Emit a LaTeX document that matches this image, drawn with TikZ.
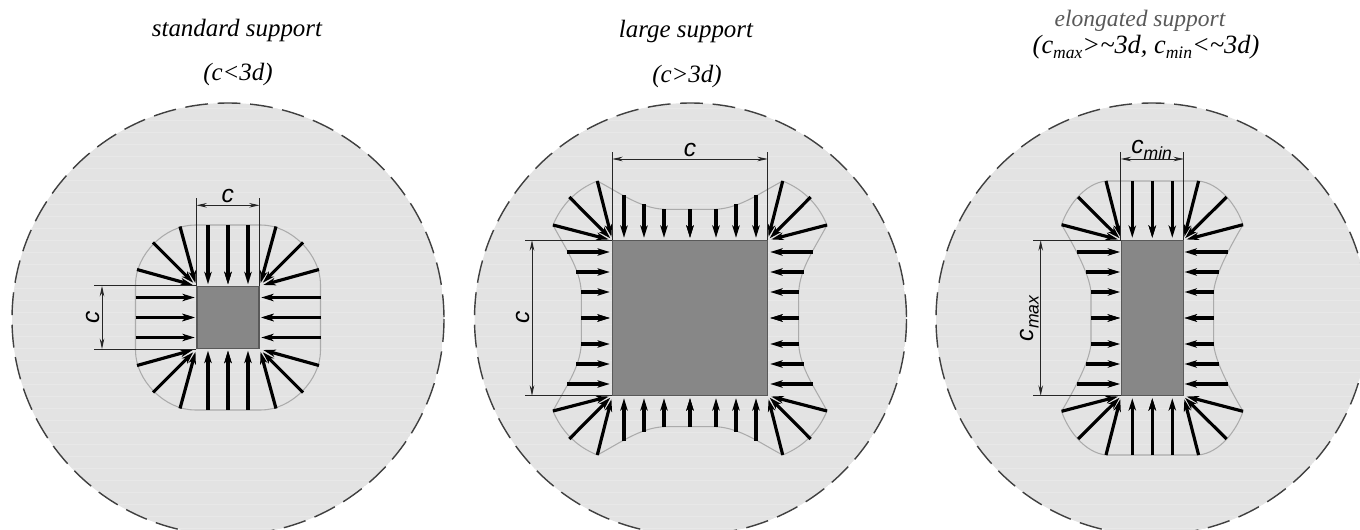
\documentclass[tikz,border=0pt]{standalone}
\usepackage{fontspec}
\setmainfont{Liberation Serif}
\newfontfamily\dimfont{Liberation Sans}
\usetikzlibrary{arrows.meta}

\newcommand{\OneQuadrant}[2]{%
\draw[outline] #1;
\foreach \tx/\ty/\hx/\hy in {#2}
	\draw[force] (\tx,\ty) -- (\hx,\hy);
}
\newcommand{\LowText}[2]{\raisebox{-0.22em}{\fontsize{#1}{#1}\selectfont #2}}

\begin{document}
\begin{tikzpicture}[x = 0.02cm, y = -0.02cm]
\tikzstyle{outline}=[draw = black!33, line width = 0.6pt]
\tikzstyle{force}=[-{Stealth[length = 7pt, width = 4.2pt, inset = 2pt]}, line width = 1.8pt, black, shorten >= -1pt]
\tikzstyle{support}=[shape = rectangle, fill = black!47, draw = black!65, line width = 0.7pt, inner sep = 0pt]
\tikzstyle{dimline}=[{Stealth[length = 6pt, width = 2.6pt]}-{Stealth[length = 6pt, width = 2.6pt]}, line width = 0.5pt, black!85]
\tikzstyle{extline}=[line width = 0.5pt, black!85]
\tikzstyle{title}=[font = \fontsize{14.2}{16}\selectfont\itshape, inner sep = 0pt]
\tikzstyle{dimlabel}=[font = \fontsize{14}{16}\selectfont\dimfont\itshape, inner sep = 0pt]

\useasboundingbox (0,0) rectangle (1360,530);
\clip (0,0) rectangle (1360,530);

% slabs
\foreach \cx in {228,690.5,1152}{
	\begin{scope}
		\clip (\cx,319) circle (216);
		\fill[black!11] (\cx,319) circle (216);
		\foreach \ys in {108,120,...,530}
			\draw[black!9, line width = 0.5pt] (\cx-220,\ys) -- (\cx+220,\ys);
	\end{scope}
	\draw[black!75, line width = 0.8pt, dash pattern = on 13pt off 5.5pt] (\cx,319) circle (216);
}

% left panel
\foreach \sx in {-1,1}
	\foreach \sy in {-1,1}{
		\begin{scope}[shift = {(228,317.5)}, xscale = \sx, yscale = \sy]
			\OneQuadrant{(0,92.5) -- (33,92.5) .. controls (63,92.5) and (92.5,63) .. (92.5,33) -- (92.5,0)}
				{0/92.5/0/35, 20/92.5/20/35, 92.5/0/35/0, 92.5/20/35/20, 48/91/33/36, 75/75/36/36, 91/48/37/33}
		\end{scope}
	}

% middle panel
\foreach \sx in {-1,1}
	\foreach \sy in {-1,1}{
		\begin{scope}[shift = {(690,318)}, xscale = \sx, yscale = \sy]
			\OneQuadrant{(0,108.7) -- (26,108.7) .. controls (50,110) and (70,125) .. (92.7,137) .. controls (115,128) and (129,112) .. (137,93) .. controls (125,70) and (110,50) .. (108.7,26) -- (108.7,0)}
				{0/108.7/0/82, 26/108.7/26/82, 46/113.7/46/82, 66/122.7/66/82, 108.7/0/82/0, 108.7/26/82/26, 113.7/46/82/46, 122.7/66/82/66, 92.7/137/79/83, 120.7/121/81/81, 137/93/83/79}
		\end{scope}
	}

% right panel
\foreach \sx in {-1,1}
	\foreach \sy in {-1,1}{
		\begin{scope}[shift = {(1152.3,318)}, xscale = \sx, yscale = \sy]
			\OneQuadrant{(0,137) -- (46,137) .. controls (68,135) and (85,111) .. (90.7,93.3) .. controls (80,75) and (63,45) .. (61.3,26) -- (61.3,0)}
				{0/137/0/82, 20/137/20/82, 61.3/0/34/0, 61.3/26/34/26, 66.3/46/34/46, 75.7/66/34/66, 46.3/137/32.5/83, 74.3/121/34/81, 90.7/93.3/36/79}
		\end{scope}
	}

% supports
\node[support, minimum width = 1.24cm, minimum height = 1.24cm] (sup1) at (228,317.5) {};
\node[support, minimum width = 3.09cm, minimum height = 3.09cm] (sup2) at (690,318) {};
\node[support, minimum width = 1.24cm, minimum height = 3.09cm] (sup3) at (1152.3,318) {};

\coordinate (top1) at (228,205.3);
\coordinate (ext1) at (228,198);
\coordinate (lft1) at (102,318);
\coordinate (out1) at (94,318);
\coordinate (top2) at (690,159);
\coordinate (ext2) at (690,151.7);
\coordinate (lft2) at (532,318);
\coordinate (out2) at (525,318);
\coordinate (top3) at (1152,159);
\coordinate (ext3) at (1152,151.7);
\coordinate (lft3) at (1040.7,318);
\coordinate (out3) at (1032.7,318);

\foreach \n in {1,2,3}{
	\draw[extline] (sup\n.north west) -- (sup\n.north west |- ext\n);
	\draw[extline] (sup\n.north east) -- (sup\n.north east |- ext\n);
	\draw[extline] (sup\n.north west) -- (sup\n.north west -| out\n);
	\draw[extline] (sup\n.south west) -- (sup\n.south west -| out\n);
	\draw[dimline] (sup\n.north west |- top\n) -- (sup\n.north east |- top\n);
	\draw[dimline] (sup\n.north west -| lft\n) -- (sup\n.south west -| lft\n);
}

% labels
\node[dimlabel] (c1t) at (227.7,196) {c};
\node[dimlabel, rotate = 90] (c1l) at (92.7,317.7) {c};
\node[dimlabel] (c2t) at (690,150) {c};
\node[dimlabel, rotate = 90] (c2l) at (522.7,317.7) {c};
\node[dimlabel] (c3t) at (1151.7,150) {c\LowText{10}{min}};
\node[dimlabel, rotate = 90] (c3l) at (1029.5,318.5) {c\LowText{10}{max}};

\node[title] (t1) at (237,31) {standard support};
\node[title] (s1) at (238,75) {(c\textless3d)};
\node[title] (t2) at (686,32) {large support};
\node[title] (s2) at (687,77) {(c\textgreater3d)};
\node[title, text = black!65, font = \fontsize{13.4}{16}\selectfont\itshape] (t3) at (1140,21) {elongated support};
\node[title, font = \fontsize{15}{16}\selectfont\itshape] (s3) at (1146,47) {(c\LowText{10}{max}\textgreater\textasciitilde3d, c\LowText{10}{min}\textless\textasciitilde3d)};
\end{tikzpicture}
\end{document}
